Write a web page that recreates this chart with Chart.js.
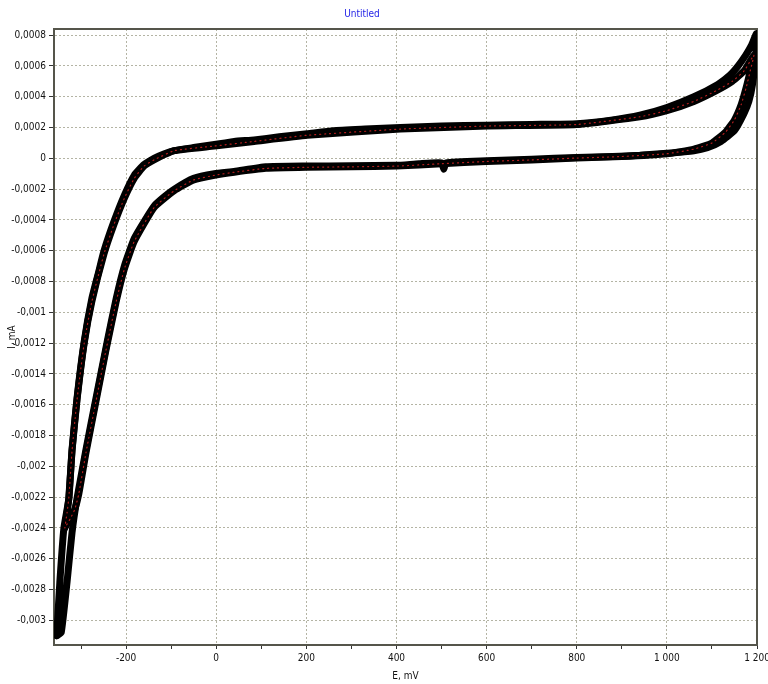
<!DOCTYPE html>
<html>
<head>
<meta charset="utf-8">
<title>Untitled</title>
<script src="https://cdn.jsdelivr.net/npm/chart.js@4.4.1/dist/chart.umd.min.js"></script>
<style>
    html, body { margin: 0; padding: 0; background: #fff; }
    #wrap { position: relative; width: 768px; height: 684px; }
    #title {
        position: absolute; left: 312px; top: 8px; width: 100px;
        text-align: center; color: #1f1fe6;
        font: 10px 'Liberation Sans Narrow', 'DejaVu Sans Condensed', sans-serif;
    }
</style>
</head>
<body>
<div id="wrap">
    <div id="title">Untitled</div>
    <canvas id="cv"></canvas>
</div>
<script>
// Outer cycle (switching at about -354 mV and 1199 mV)
const cycle1E = [-354, -347, -338, -327, -320, -309, -293, -276, -262, -249, -227, -204, -182, -160, -138, -115, -93, -50, -4, 40, 84, 140, 202, 260, 330, 409, 500, 600, 700, 800, 880, 940, 1000, 1060, 1113, 1140, 1158, 1175, 1187, 1199,
                 1197, 1190, 1182, 1171, 1150, 1120, 1090, 1060, 1000, 940, 880, 800, 700, 600, 510, 505, 500, 450, 400, 300, 200, 110, 40, -4, -50, -93, -120, -138, -160, -182, -204, -222, -242, -267, -289, -309, -320, -331, -344, -354];
const cycle1I = [-0.0031, -0.00275, -0.0024, -0.00221, -0.00189, -0.00156, -0.00119, -0.00091, -0.00075, -0.0006, -0.00041, -0.00024, -0.00011, -0.00004, 0, 0.00003, 0.00005, 0.00007, 0.00009, 0.00011, 0.00012, 0.00014, 0.00016, 0.00018, 0.00019, 0.0002, 0.00021, 0.000215, 0.00022, 0.000225, 0.00025, 0.00028, 0.00033, 0.0004, 0.00048, 0.00054, 0.0006, 0.00067, 0.00073, 0.00081,
                 0.00066, 0.00048, 0.00037, 0.00029, 0.00018, 0.00011, 0.00007, 0.00005, 0.000033, 0.00002, 0.000012, 0.000006, -0.000005, -0.000016, -0.00003, -0.00007, -0.00003, -0.000035, -0.000045, -0.000048, -0.00005, -0.000055, -0.000085, -0.0001, -0.00013, -0.0002, -0.00026, -0.00031, -0.00041, -0.00052, -0.0007, -0.00091, -0.00119, -0.00156, -0.00189, -0.00221, -0.00243, -0.00275, -0.00308, -0.0031];

// Last cycle (switching at about -336 mV and 1193 mV), drawn with the red trace
const cycle2E = [-336, -331, -327, -320, -309, -293, -276, -249, -227, -204, -182, -160, -138, -93, -4, 84, 202, 409, 602, 800, 940, 1000, 1060, 1110, 1145, 1172, 1193,
                 1186, 1176, 1165, 1150, 1130, 1100, 1060, 1000, 900, 800, 700, 600, 500, 400, 300, 200, 110, 40, -4, -50, -93, -138, -182, -204, -222, -245, -267, -289, -305, -314, -324, -336];
const cycle2I = [-0.0024, -0.0023, -0.0022, -0.0019, -0.00157, -0.0012, -0.00093, -0.00062, -0.00043, -0.00026, -0.00013, -0.00005, -0.00001, 0.00005, 0.00008, 0.00011, 0.00015, 0.00019, 0.00021, 0.00022, 0.00027, 0.00031, 0.00037, 0.00044, 0.0005, 0.00057, 0.00067,
                 0.00058, 0.00046, 0.00035, 0.00025, 0.00017, 0.0001, 0.00006, 0.00003, 0.000012, 0.000002, -0.00001, -0.00002, -0.000035, -0.00005, -0.000055, -0.000058, -0.000065, -0.00009, -0.00011, -0.00014, -0.00021, -0.00032, -0.00054, -0.00072, -0.00093, -0.00125, -0.00158, -0.00191, -0.00218, -0.00228, -0.00234, -0.0024];

// Axis ticks
const xTickValues = [-300, -200, -100, 0, 100, 200, 300, 400, 500, 600, 700, 800, 900, 1000, 1100, 1200];
const xTickLabels = ['', '-200', '', '0', '', '200', '', '400', '', '600', '', '800', '', '1 000', '', '1 200'];
const yTickValues = [0.0008, 0.0006, 0.0004, 0.0002, 0, -0.0002, -0.0004, -0.0006, -0.0008, -0.001, -0.0012, -0.0014, -0.0016, -0.0018, -0.002, -0.0022, -0.0024, -0.0026, -0.0028, -0.003];
const yTickLabels = ['0,0008', '0,0006', '0,0004', '0,0002', '0', '-0,0002', '-0,0004', '-0,0006', '-0,0008', '-0,001', '-0,0012', '-0,0014', '-0,0016', '-0,0018', '-0,002', '-0,0022', '-0,0024', '-0,0026', '-0,0028', '-0,003'];

const toPoints = (xs, ys) => xs.map((x, i) => ({ x: x, y: ys[i] }));

const FONT = "'Liberation Sans Narrow', 'DejaVu Sans Condensed', Arial, sans-serif";
const gridColor = '#b4b4a4';

// plot frame round the chart area
const framePlugin = {
    id: 'frame',
    beforeDatasetsDraw(chart) {
        const { ctx, chartArea: a } = chart;
        ctx.save();
        ctx.strokeStyle = '#55554b';
        ctx.lineWidth = 2;
        ctx.strokeRect(a.left, a.top, a.right - a.left, a.bottom - a.top);
        ctx.restore();
    }
};

const lineStyle = {
    showLine: true,
    pointRadius: 0,
    fill: false,
    tension: 0.15,
    borderJoinStyle: 'round',
    borderCapStyle: 'round'
};

new Chart(document.getElementById('cv'), {
    type: 'scatter',
    data: {
        datasets: [
            Object.assign({}, lineStyle, {
                label: 'last cycle',
                data: toPoints(cycle2E, cycle2I),
                borderColor: '#b41e1e',
                borderWidth: 1.2,
                borderDash: [1, 4],
                order: 0
            }),
            Object.assign({}, lineStyle, {
                label: 'cycle 2',
                data: toPoints(cycle2E, cycle2I),
                borderColor: '#000',
                borderWidth: 7,
                order: 1
            }),
            Object.assign({}, lineStyle, {
                label: 'cycle 1',
                data: toPoints(cycle1E, cycle1I),
                borderColor: '#000',
                borderWidth: 7,
                order: 2
            })
        ]
    },
    options: {
        responsive: true,
        maintainAspectRatio: false,
        animation: false,
        layout: { padding: { top: 29, right: 11, left: 0, bottom: 0 } },
        plugins: {
            legend: { display: false },
            tooltip: { enabled: false },
            title: { display: false }
        },
        scales: {
            x: {
                type: 'linear',
                min: -360,
                max: 1200,
                afterBuildTicks: (s) => { s.ticks = xTickValues.map(v => ({ value: v })); },
                afterFit: (s) => { s.height = 39; s.paddingLeft = 0; s.paddingRight = 0; },
                ticks: {
                    autoSkip: false,
                    maxRotation: 0,
                    padding: 3,
                    color: '#111',
                    font: { family: FONT, size: 10 },
                    callback: (v, i) => xTickLabels[i]
                },
                grid: {
                    color: (c) => (c.tick && c.tick.value % 200 === 0 && c.tick.value < 1200) ? gridColor : 'transparent',
                    tickColor: '#333',
                    tickLength: 4,
                    lineWidth: 1
                },
                border: { display: true, color: '#111', width: 2, dash: [2, 2] },
                title: {
                    display: true,
                    text: 'E, mV',
                    color: '#111',
                    font: { family: FONT, size: 10 },
                    padding: { top: 0, bottom: 2 }
                }
            },
            y: {
                type: 'linear',
                min: -0.00316,
                max: 0.00084,
                afterBuildTicks: (s) => { s.ticks = yTickValues.map(v => ({ value: v })); },
                afterFit: (s) => { s.width = 54; s.paddingTop = 0; s.paddingBottom = 0; },
                ticks: {
                    autoSkip: false,
                    padding: 3,
                    color: '#111',
                    font: { family: FONT, size: 10 },
                    callback: (v, i) => yTickLabels[i]
                },
                grid: {
                    color: gridColor,
                    tickColor: '#333',
                    tickLength: 5,
                    lineWidth: 1
                },
                border: { display: true, color: '#111', width: 2, dash: [2, 2] },
                title: {
                    display: true,
                    text: 'I, mA',
                    color: '#111',
                    font: { family: FONT, size: 10 },
                    padding: { top: 6, bottom: 0 }
                }
            }
        }
    },
    plugins: [framePlugin]
});
</script>
</body>
</html>
